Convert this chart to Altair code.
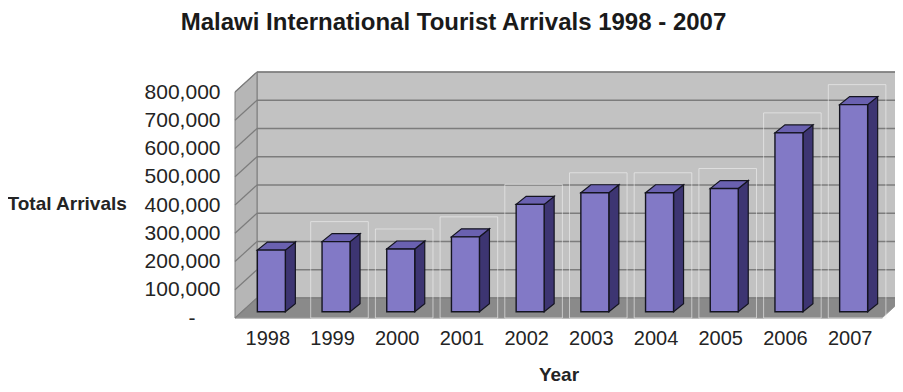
import json
import altair as alt
import pandas as pd

# ---------------- data ----------------
years = ["1998", "1999", "2000", "2001", "2002", "2003", "2004", "2005", "2006", "2007"]
arrivals = [218000, 248000, 222000, 265000, 380000, 421000, 421000, 436000, 633000, 733000]
y_ticks = [0, 100000, 200000, 300000, 400000, 500000, 600000, 700000, 800000]
y_max = 800000

# ---------------- layout / style constants ----------------
PLOT_W, PLOT_H = 647, 226
N = len(years)
def px_x(p):  # pixels -> x units
    return p * N / PLOT_W
def px_y(p):  # pixels -> value units
    return p * y_max / PLOT_H

WALL_DX, WALL_DY = px_x(22), px_y(20)
BAR_W, BAR_SHIFT, BAR_BASE = px_x(28), px_x(4), px_y(6.3)
BAR_DX, BAR_DY = px_x(10), px_y(8)
GHOST_L, GHOST_R = 0.17, 1.06

FONT = "Liberation Sans, Arial, Helvetica, sans-serif"
TXT = "#242424"
FRONT, SIDE, TOP, EDGE = "#8279c6", "#3d3572", "#6a61b0", "#141420"
BACK, LEFTW, FLOOR, GRID = "#c2c2c2", "#b6b6b6", "#8a8a8a", "#7c7c7c"

# ---------------- tables built from the arrays ----------------
bars = pd.DataFrame({"i": range(N), "year": years, "value": arrivals})
bars["xl"] = bars["i"] + 0.5 - BAR_W / 2 + BAR_SHIFT
bars["xr"] = bars["xl"] + BAR_W
bars["y0"] = BAR_BASE
bars["y1"] = BAR_BASE + bars["value"]
bars["gl"] = bars["i"] + GHOST_L
bars["gr"] = bars["i"] + GHOST_R
bars["gt"] = bars["y1"] + WALL_DY
bars["g0"] = 0

side_rows, top_rows = [], []
for _, r in bars.iterrows():
    side_rows.append({"bar": r.year, "x": r.xr, "lo": r.y0, "hi": r.y1})
    side_rows.append({"bar": r.year, "x": r.xr + BAR_DX, "lo": r.y0 + BAR_DY, "hi": r.y1 + BAR_DY})
    t = r.y1
    top_rows += [
        {"bar": r.year, "x": r.xl, "lo": t, "hi": t},
        {"bar": r.year, "x": r.xl + BAR_DX, "lo": t, "hi": t + BAR_DY},
        {"bar": r.year, "x": r.xr, "lo": t, "hi": t + BAR_DY},
        {"bar": r.year, "x": r.xr + BAR_DX, "lo": t + BAR_DY, "hi": t + BAR_DY},
    ]
side = pd.DataFrame(side_rows)
topf = pd.DataFrame(top_rows)

floor = pd.DataFrame({
    "x": [0, WALL_DX, N, N + WALL_DX],
    "lo": [0, 0, 0, WALL_DY],
    "hi": [0, WALL_DY, WALL_DY, WALL_DY],
})
leftwall = pd.DataFrame({"x": [0, WALL_DX], "lo": [0, WALL_DY], "hi": [y_max, y_max + WALL_DY]})
backwall = pd.DataFrame({"x": [WALL_DX], "x2": [N + WALL_DX], "lo": [WALL_DY], "hi": [y_max + WALL_DY]})
backgrid = pd.DataFrame({"x": WALL_DX, "x2": N + WALL_DX, "y": [v + WALL_DY for v in y_ticks]})
sidegrid_rows = []
for v in y_ticks:
    sidegrid_rows.append({"t": v, "x": 0, "y": v})
    sidegrid_rows.append({"t": v, "x": WALL_DX, "y": v + WALL_DY})
sidegrid = pd.DataFrame(sidegrid_rows)

# ---------------- shared scales and axes ----------------
xscale = alt.Scale(domain=[0, N], nice=False, zero=False)
yscale = alt.Scale(domain=[0, y_max], nice=False, zero=False)
xaxis = alt.Axis(
    values=[i + 0.5 for i in range(N)],
    labelExpr=json.dumps(years) + "[floor(datum.value)]",
    title="Year", titleFont=FONT, titleFontSize=19, titleFontWeight="bold", titleColor=TXT,
    titleY=62, titleBaseline="alphabetic",
    labelFont=FONT, labelFontSize=20, labelColor=TXT, labelPadding=10,
    domain=False, ticks=False, grid=False,
)
yaxis = alt.Axis(
    values=y_ticks,
    labelExpr="datum.value == 0 ? '-' : format(datum.value, ',')",
    title="Total Arrivals", titleFont=FONT, titleFontSize=19, titleFontWeight="bold", titleColor=TXT,
    titleAngle=0, titleAlign="left", titleBaseline="middle", titleX=-228, titleY=111,
    labelFont=FONT, labelFontSize=21, labelColor=TXT,
    labelPadding={"condition": {"test": "datum.value == 0", "value": 40}, "value": 15},
    domain=False, ticks=False, grid=False,
)

def X(f):
    return alt.X(f, type="quantitative", scale=xscale, axis=xaxis)
def Y(f):
    return alt.Y(f, type="quantitative", scale=yscale, axis=yaxis)

back_l = alt.Chart(backwall).mark_rect(fill=BACK, stroke=GRID, strokeWidth=1).encode(
    x=X("x"), x2="x2", y=Y("lo"), y2="hi")
left_l = alt.Chart(leftwall).mark_area(fill=LEFTW, stroke=GRID, strokeWidth=1).encode(
    x=X("x"), y=Y("lo"), y2="hi")
floor_l = alt.Chart(floor).mark_area(fill=FLOOR, stroke="#9a9a9a", strokeWidth=1).encode(
    x=X("x"), y=Y("lo"), y2="hi")
grid_l = alt.Chart(backgrid).mark_rule(color=GRID, strokeWidth=1.3).encode(
    x=X("x"), x2="x2", y=Y("y"))
sgrid_l = alt.Chart(sidegrid).mark_line(color=GRID, strokeWidth=1.2).encode(
    x=X("x"), y=Y("y"), detail="t:N")
ghost_l = alt.Chart(bars).transform_filter("datum.i > 0").mark_rect(
    fill=None, stroke="#f2f2f2", strokeWidth=1, strokeOpacity=0.6).encode(
    x=X("gl"), x2="gr", y=Y("g0"), y2="gt")
side_l = alt.Chart(side).mark_area(fill=SIDE, stroke=EDGE, strokeWidth=1.2).encode(
    x=X("x"), y=Y("lo"), y2="hi", detail="bar:N")
top_l = alt.Chart(topf).mark_area(fill=TOP, stroke=EDGE, strokeWidth=1.2).encode(
    x=X("x"), y=Y("lo"), y2="hi", detail="bar:N")
front_l = alt.Chart(bars).mark_rect(fill=FRONT, stroke=EDGE, strokeWidth=1.4).encode(
    x=X("xl"), x2="xr", y=Y("y0"), y2="y1")

chart = alt.layer(back_l, left_l, floor_l, grid_l, sgrid_l, ghost_l, side_l, top_l, front_l).properties(
    width=PLOT_W, height=PLOT_H,
    title=alt.TitleParams(
        "Malawi International Tourist Arrivals 1998 - 2007",
        font=FONT, fontSize=24, fontWeight="bold", color="#1a1a1a",
        anchor="middle", dx=-105, offset=16, baseline="alphabetic",
    ),
    padding={"left": 227, "top": 84, "right": 13, "bottom": 66},
    autosize="none",
).configure_view(stroke=None).configure(background="white")

chart.save("out.html", embed_options={"renderer": "svg", "actions": False})
